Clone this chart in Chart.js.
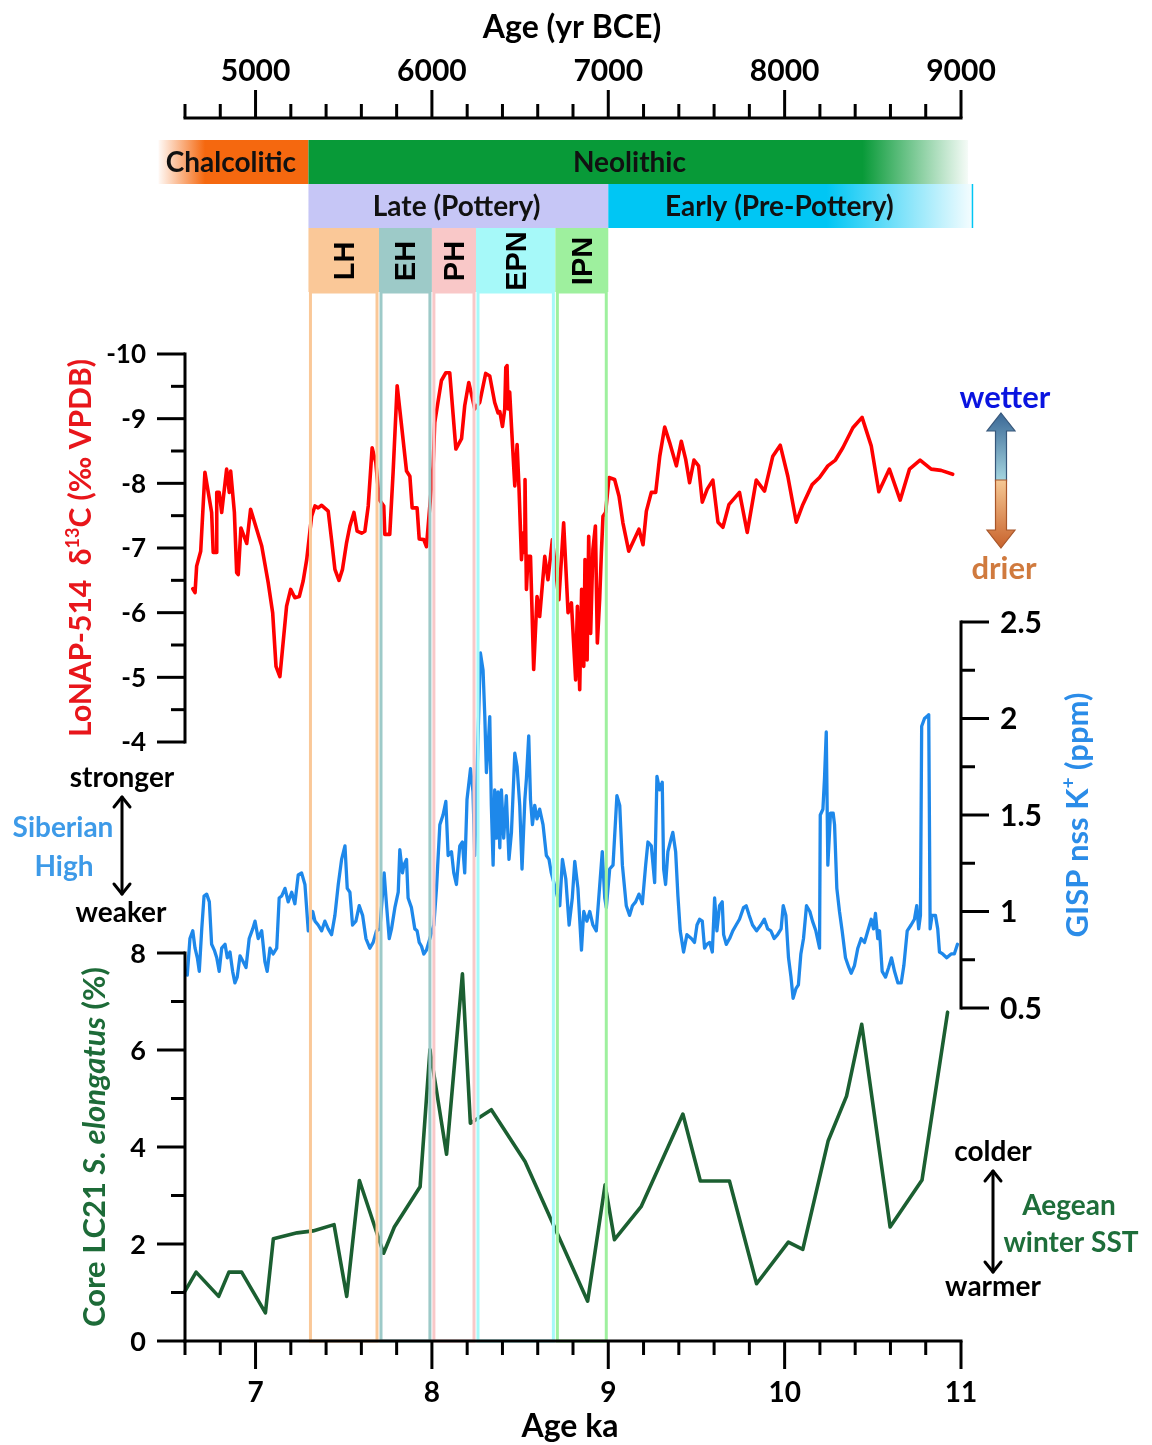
<!DOCTYPE html>
<html>
<head>
<meta charset="utf-8">
<title>Neolithic cultural phases and Holocene climate proxies</title>
<script src="https://cdn.jsdelivr.net/npm/chart.js@4.4.1/dist/chart.umd.min.js"></script>
<style>
  html, body { margin: 0; padding: 0; background: #fff; }
  canvas { display: block; }
</style>
</head>
<body>
<canvas id="chart" width="1152" height="1445"></canvas>
<script>
// ---------------- series (age in ka) ----------------
const RED_AGE = [6.644, 6.657, 6.666, 6.689, 6.713, 6.751, 6.76, 6.776, 6.78, 6.794, 6.808, 6.836, 6.851, 6.859, 6.88, 6.893, 6.902, 6.917, 6.95, 6.972,
  7.035, 7.072, 7.097, 7.116, 7.138, 7.176, 7.199, 7.223, 7.248, 7.27, 7.29, 7.318, 7.337, 7.355, 7.375, 7.412, 7.431, 7.45, 7.473, 7.493,
  7.516, 7.535, 7.558, 7.576, 7.601, 7.62, 7.639, 7.661, 7.682, 7.701, 7.727, 7.733, 7.761, 7.78, 7.803, 7.828, 7.856, 7.875, 7.888, 7.916,
  7.928, 7.954, 7.969, 8.007, 8.016, 8.054, 8.079, 8.101, 8.136, 8.168, 8.186, 8.209, 8.243, 8.271, 8.305, 8.328, 8.356, 8.375, 8.385, 8.4,
  8.413, 8.419, 8.426, 8.432, 8.441, 8.451, 8.47, 8.483, 8.494, 8.508, 8.517, 8.527, 8.528, 8.536, 8.545, 8.559, 8.577, 8.596, 8.611, 8.64,
  8.658, 8.683, 8.72, 8.747, 8.772, 8.791, 8.815, 8.825, 8.838, 8.849, 8.861, 8.868, 8.88, 8.889, 8.9, 8.913, 8.927, 8.938, 8.951, 8.961,
  8.97, 8.985, 9.004, 9.036, 9.061, 9.083, 9.116, 9.174, 9.197, 9.216, 9.244, 9.269, 9.292, 9.32, 9.348, 9.386, 9.414, 9.439, 9.461, 9.486,
  9.512, 9.533, 9.561, 9.593, 9.622, 9.65, 9.684, 9.744, 9.788, 9.839, 9.886, 9.933, 9.975, 10.018, 10.066, 10.103, 10.156, 10.198, 10.245, 10.288,
  10.33, 10.387, 10.439, 10.491, 10.534, 10.594, 10.655, 10.708, 10.768, 10.831, 10.887, 10.953];
const RED_D13C = [-6.37, -6.31, -6.72, -6.95, -8.17, -7.55, -6.93, -6.93, -7.86, -7.86, -7.55, -8.22, -7.86, -8.19, -7.55, -6.62, -6.59, -7.31, -7.07, -7.6,
  -7.03, -6.46, -6.0, -5.17, -5.01, -6.1, -6.36, -6.23, -6.25, -6.49, -6.82, -7.49, -7.65, -7.62, -7.66, -7.57, -7.13, -6.67, -6.5, -6.67,
  -7.08, -7.34, -7.55, -7.26, -7.23, -7.26, -7.65, -8.55, -8.32, -7.75, -7.65, -7.21, -7.21, -8.17, -9.51, -8.89, -8.19, -8.11, -7.62, -7.62,
  -7.14, -7.13, -7.02, -8.27, -8.94, -9.59, -9.71, -9.71, -8.53, -8.69, -9.2, -9.56, -9.15, -9.25, -9.7, -9.66, -9.25, -9.09, -9.11, -8.88,
  -9.15, -9.79, -9.82, -9.15, -9.41, -8.89, -7.96, -8.6, -7.91, -6.82, -7.23, -6.93, -8.06, -6.36, -6.87, -6.87, -5.12, -6.25, -5.94, -6.87,
  -6.51, -7.13, -6.2, -7.39, -6.0, -6.15, -4.96, -6.1, -4.81, -6.36, -5.17, -6.82, -5.27, -7.18, -5.68, -6.98, -7.34, -5.53, -6.2, -6.93,
  -7.49, -7.55, -8.09, -8.06, -7.8, -7.39, -6.95, -7.29, -7.05, -7.57, -7.86, -7.86, -8.42, -8.87, -8.63, -8.27, -8.65, -8.37, -8.01, -8.36,
  -8.27, -7.71, -7.91, -8.05, -7.4, -7.32, -7.67, -7.86, -7.24, -8.05, -7.88, -8.42, -8.59, -8.11, -7.4, -7.67, -7.98, -8.09, -8.27, -8.36,
  -8.55, -8.86, -9.02, -8.58, -7.87, -8.22, -7.74, -8.22, -8.36, -8.22, -8.2, -8.14];

const BLUE_AGE = [6.613, 6.628, 6.644, 6.657, 6.67, 6.681, 6.695, 6.708, 6.723, 6.738, 6.751, 6.766, 6.78, 6.794, 6.808, 6.827, 6.84, 6.855, 6.87, 6.883,
  6.896, 6.912, 6.93, 6.946, 6.964, 6.984, 6.997, 7.015, 7.035, 7.053, 7.066, 7.082, 7.1, 7.12, 7.134, 7.148, 7.167, 7.185, 7.205, 7.223,
  7.242, 7.261, 7.28, 7.299, 7.324, 7.337, 7.355, 7.375, 7.393, 7.412, 7.431, 7.45, 7.469, 7.488, 7.507, 7.52, 7.535, 7.55, 7.569, 7.588,
  7.607, 7.626, 7.648, 7.667, 7.686, 7.705, 7.729, 7.743, 7.758, 7.771, 7.79, 7.809, 7.818, 7.833, 7.841, 7.856, 7.865, 7.884, 7.903, 7.916,
  7.928, 7.941, 7.954, 7.969, 8.011, 8.026, 8.045, 8.063, 8.079, 8.092, 8.111, 8.124, 8.139, 8.158, 8.173, 8.186, 8.199, 8.219, 8.233, 8.243,
  8.275, 8.29, 8.3, 8.309, 8.318, 8.328, 8.337, 8.347, 8.356, 8.366, 8.375, 8.385, 8.394, 8.407, 8.422, 8.437, 8.451, 8.47, 8.483, 8.498,
  8.511, 8.527, 8.536, 8.549, 8.559, 8.57, 8.583, 8.596, 8.611, 8.63, 8.649, 8.664, 8.677, 8.725, 8.74, 8.759, 8.778, 8.796, 8.81, 8.828,
  8.848, 8.861, 8.879, 8.895, 8.913, 8.932, 8.966, 8.98, 8.989, 9.008, 9.027, 9.049, 9.065, 9.08, 9.102, 9.121, 9.137, 9.155, 9.174, 9.193,
  9.212, 9.225, 9.244, 9.263, 9.276, 9.291, 9.306, 9.314, 9.325, 9.338, 9.357, 9.366, 9.382, 9.395, 9.408, 9.427, 9.446, 9.471, 9.489, 9.503,
  9.518, 9.533, 9.546, 9.559, 9.575, 9.59, 9.603, 9.616, 9.631, 9.646, 9.654, 9.669, 9.688, 9.706, 9.725, 9.744, 9.767, 9.782, 9.799, 9.818,
  9.841, 9.865, 9.885, 9.904, 9.922, 9.941, 9.96, 9.98, 9.992, 10.007, 10.022, 10.036, 10.048, 10.064, 10.078, 10.092, 10.107, 10.124, 10.143, 10.158,
  10.177, 10.198, 10.202, 10.217, 10.226, 10.236, 10.245, 10.26, 10.275, 10.283, 10.296, 10.311, 10.326, 10.345, 10.364, 10.377, 10.396, 10.415, 10.434, 10.453,
  10.472, 10.491, 10.504, 10.515, 10.528, 10.538, 10.553, 10.572, 10.59, 10.606, 10.623, 10.642, 10.661, 10.676, 10.695, 10.717, 10.736, 10.749, 10.76, 10.77,
  10.777, 10.793, 10.806, 10.817, 10.825, 10.836, 10.855, 10.868, 10.878, 10.896, 10.919, 10.944, 10.962, 10.98];
const BLUE_K = [0.67, 0.86, 0.9, 0.81, 0.76, 0.69, 0.91, 1.08, 1.09, 1.05, 0.83, 0.8, 0.76, 0.69, 0.81, 0.83, 0.76, 0.79, 0.69, 0.63,
  0.66, 0.77, 0.74, 0.71, 0.86, 0.91, 0.95, 0.86, 0.9, 0.74, 0.69, 0.81, 0.78, 0.81, 1.07, 1.08, 1.12, 1.05, 1.1, 1.04,
  1.19, 1.2, 1.14, 0.9, 1.0, 0.95, 0.93, 0.9, 0.95, 0.91, 0.88, 0.98, 1.14, 1.27, 1.34, 1.12, 1.1, 0.93, 0.95, 1.03,
  0.98, 0.86, 0.81, 0.84, 0.9, 0.91, 1.2, 1.03, 0.86, 0.91, 1.02, 1.1, 1.32, 1.2, 1.24, 1.27, 1.07, 1.02, 0.91, 0.9,
  0.84, 0.82, 0.78, 0.8, 0.93, 1.12, 1.45, 1.5, 1.57, 1.29, 1.31, 1.2, 1.14, 1.34, 1.36, 1.2, 1.58, 1.74, 1.62, 1.29,
  2.34, 2.25, 2.01, 1.72, 1.84, 2.01, 1.55, 1.24, 1.63, 1.38, 1.62, 1.33, 1.63, 1.38, 1.6, 1.27, 1.41, 1.82, 1.75, 1.55,
  1.22, 1.58, 1.69, 1.91, 1.58, 1.45, 1.55, 1.48, 1.53, 1.45, 1.29, 1.27, 1.2, 1.03, 1.27, 1.17, 0.93, 1.07, 1.26, 1.12,
  0.8, 1.0, 0.95, 1.0, 0.93, 0.9, 1.31, 1.07, 1.02, 1.22, 1.24, 1.6, 1.55, 1.24, 1.03, 0.98, 1.03, 1.05, 1.09, 1.04,
  1.24, 1.36, 1.34, 1.15, 1.7, 1.63, 1.67, 1.22, 1.14, 1.31, 1.38, 1.41, 1.31, 1.08, 0.9, 0.79, 0.88, 0.86, 0.84, 0.93,
  0.96, 0.95, 0.81, 0.83, 0.84, 0.79, 1.07, 0.9, 1.03, 1.05, 0.88, 0.83, 0.86, 0.9, 0.93, 0.96, 1.02, 1.03, 0.98, 0.93,
  0.9, 0.93, 0.96, 0.91, 0.9, 0.86, 0.88, 0.91, 1.03, 0.98, 0.76, 0.66, 0.55, 0.6, 0.62, 0.78, 0.86, 1.03, 1.0, 0.95,
  0.9, 0.81, 1.5, 1.53, 1.69, 1.93, 1.24, 1.51, 1.51, 1.45, 1.12, 1.0, 0.9, 0.76, 0.71, 0.68, 0.72, 0.81, 0.86, 0.84,
  0.9, 0.96, 0.91, 0.99, 0.86, 0.9, 0.69, 0.66, 0.71, 0.76, 0.69, 0.63, 0.63, 0.72, 0.9, 0.93, 0.96, 1.03, 0.91, 0.98,
  1.96, 2.0, 2.01, 2.02, 0.91, 0.98, 0.98, 0.91, 0.79, 0.78, 0.76, 0.78, 0.78, 0.83];

const GREEN_AGE = [6.6, 6.663, 6.791, 6.849, 6.921, 7.056, 7.101, 7.236, 7.326, 7.445, 7.517, 7.589, 7.726, 7.787, 7.933, 7.989, 8.083, 8.173, 8.218, 8.337,
  8.528, 8.883, 8.982, 9.035, 9.186, 9.423, 9.522, 9.687, 9.841, 10.021, 10.103, 10.247, 10.351, 10.437, 10.598, 10.779, 10.924];
const GREEN_PCT = [1.03, 1.42, 0.92, 1.42, 1.42, 0.58, 2.11, 2.23, 2.27, 2.4, 0.92, 3.31, 1.81, 2.35, 3.18, 6.01, 3.85, 7.57, 4.49, 4.77,
  3.7, 0.82, 3.22, 2.09, 2.77, 4.68, 3.3, 3.3, 1.18, 2.04, 1.89, 4.13, 5.05, 6.53, 2.35, 3.32, 6.78];

// ---------------- axis ticks ----------------
const AGE_TICKS = [7, 8, 9, 10, 11];
const BCE_TICKS = [5000, 6000, 7000, 8000, 9000];
const D13C_TICKS = [-10, -9, -8, -7, -6, -5, -4];
const K_TICKS = [0.5, 1, 1.5, 2, 2.5];
const PCT_TICKS = [0, 2, 4, 6, 8];

// ---------------- cultural periods (yr BCE) ----------------
const ERA_NAMES = ['Chalcolitic', 'Neolithic'];
const ERA_FROM = [4450, 5300];
const ERA_TO = [5300, 9040];
const ERA_LABEL_AT = [4860, 7120];
const STAGE_NAMES = ['Late (Pottery)', 'Early (Pre-Pottery)'];
const STAGE_FROM = [5300, 7000];
const STAGE_TO = [7000, 9065];
const STAGE_LABEL_AT = [6140, 7970];
const PHASE_NAMES = ['LH', 'EH', 'PH', 'EPN', 'IPN'];
const PHASE_FROM = [5300, 5700, 6000, 6250, 6700];
const PHASE_TO = [5700, 6000, 6250, 6700, 7000];

// ---------------- layout & style ----------------
const W = 1152, H = 1445;
const AREA = { left: 185, right: 961, top: 118, bottom: 1341 };
const PANELS = {
  yRed:   { top: 354, bottom: 742, lo: -10, hi: -4, reverse: true },
  yBlue:  { top: 622, bottom: 1008, lo: 0.5, hi: 2.5 },
  yGreen: { top: 953, bottom: 1341, lo: 0, hi: 8 }
};
const BAND_Y = { eraTop: 140, eraBottom: 184, stageBottom: 228, phaseBottom: 292 };
const ERA_RGB = ['245,104,15', '8,154,56'];
const STAGE_RGB = ['198,198,246', '0,198,244'];
const PHASE_RGB = ['250,200,152', '157,202,200', '249,200,200', '166,249,249', '158,240,158'];
const COL = {
  red: '#ff0000', blue: '#1e88ea', green: '#1b5f31',
  redTitle: '#e8161b', blueTitle: '#2b8ce8', greenTitle: '#1d6b38'
};
const FONT = 'Lato, "Open Sans", "DejaVu Sans", sans-serif';
const font = (size, style = 'normal') => `${style} bold ${size}px ${FONT}`;
const MAJOR = 28, MINOR = 14, AXIS_W = 3;

// Extend each panel's value range so it lands on its own band of the plot area
function panelRange(p) {
  const ppu = (p.bottom - p.top) / (p.hi - p.lo);
  if (p.reverse) {
    return { min: p.lo - (p.top - AREA.top) / ppu, max: p.hi + (AREA.bottom - p.bottom) / ppu };
  }
  return { min: p.lo - (AREA.bottom - p.bottom) / ppu, max: p.hi + (p.top - AREA.top) / ppu };
}
const toPoints = (xs, ys) => xs.map((x, i) => ({ x, y: ys[i] }));

// ---------------- drawing helpers ----------------
function seg(ctx, x0, y0, x1, y1) {
  ctx.beginPath(); ctx.moveTo(x0, y0); ctx.lineTo(x1, y1); ctx.stroke();
}
const near = (a, b) => Math.abs(a - b) < 1e-6;

// vertical axis drawn along one panel of a y scale
function drawYAxis(ctx, scale, xLine, side, from, to, step, ticks, size) {
  ctx.strokeStyle = '#000'; ctx.lineWidth = AXIS_W; ctx.lineCap = 'square';
  seg(ctx, xLine, scale.getPixelForValue(from), xLine, scale.getPixelForValue(to));
  ctx.lineCap = 'butt';
  const dir = side === 'left' ? -1 : 1;
  const n = Math.round((to - from) / step);
  for (let k = 0; k <= n; k++) {
    const v = from + k * step;
    const y = scale.getPixelForValue(v);
    const len = ticks.some(t => near(t, v)) ? MAJOR : MINOR;
    seg(ctx, xLine, y, xLine + dir * len, y);
  }
  ctx.fillStyle = '#000'; ctx.font = font(size);
  ctx.textAlign = side === 'left' ? 'right' : 'left'; ctx.textBaseline = 'middle';
  ticks.forEach(t => ctx.fillText(String(t), xLine + dir * (MAJOR + 11), scale.getPixelForValue(t) + 1));
}

// horizontal axis along the bottom or the top edge
function drawXAxis(ctx, scale, yLine, side, from, to, step, ticks, size, labelY) {
  ctx.strokeStyle = '#000'; ctx.lineWidth = AXIS_W; ctx.lineCap = 'square';
  seg(ctx, scale.getPixelForValue(from), yLine, scale.getPixelForValue(to), yLine);
  ctx.lineCap = 'butt';
  const dir = side === 'bottom' ? 1 : -1;
  const n = Math.round((to - from) / step);
  for (let k = 0; k <= n; k++) {
    const v = from + k * step;
    const x = scale.getPixelForValue(v);
    const len = ticks.some(t => near(t, v)) ? MAJOR : MINOR;
    seg(ctx, x, yLine, x, yLine + dir * len);
  }
  ctx.fillStyle = '#000'; ctx.font = font(size);
  ctx.textAlign = 'center'; ctx.textBaseline = 'middle';
  ticks.forEach(t => ctx.fillText(String(t), scale.getPixelForValue(t), labelY));
}

// mixed-style text run, centred on (cx, cy), optionally reading bottom-to-top
function richText(ctx, parts, cx, cy, color, rotate) {
  ctx.save();
  ctx.translate(cx, cy);
  if (rotate) ctx.rotate(-Math.PI / 2);
  let total = 0;
  parts.forEach(p => { ctx.font = font(p.size, p.style); p.w = ctx.measureText(p.text).width; total += p.w; });
  let x = -total / 2;
  ctx.fillStyle = color; ctx.textAlign = 'left'; ctx.textBaseline = 'alphabetic';
  const base = parts[0].size * 0.36;
  parts.forEach(p => { ctx.font = font(p.size, p.style); ctx.fillText(p.text, x, base + (p.dy || 0)); x += p.w; });
  ctx.restore();
}

function label(ctx, text, x, y, size, color, align = 'center') {
  ctx.font = font(size); ctx.fillStyle = color; ctx.textAlign = align; ctx.textBaseline = 'middle';
  ctx.fillText(text, x, y);
}

function doubleArrow(ctx, x, y0, y1) {
  ctx.save();
  ctx.strokeStyle = '#000'; ctx.lineWidth = 3; ctx.lineCap = 'round'; ctx.lineJoin = 'round';
  seg(ctx, x, y0 + 1, x, y1 - 1);
  ctx.beginPath(); ctx.moveTo(x - 8, y0 + 11); ctx.lineTo(x, y0 + 1); ctx.lineTo(x + 8, y0 + 11); ctx.stroke();
  ctx.beginPath(); ctx.moveTo(x - 8, y1 - 11); ctx.lineTo(x, y1 - 1); ctx.lineTo(x + 8, y1 - 11); ctx.stroke();
  ctx.restore();
}

// block arrow with a vertical colour ramp (tipY above or below baseY)
function blockArrow(ctx, cx, tipY, headY, endY, c0, c1, edge) {
  const g = ctx.createLinearGradient(0, tipY, 0, endY);
  g.addColorStop(0, c0); g.addColorStop(1, c1);
  ctx.beginPath();
  ctx.moveTo(cx, tipY);
  ctx.lineTo(cx + 14, headY); ctx.lineTo(cx + 5.5, headY); ctx.lineTo(cx + 5.5, endY);
  ctx.lineTo(cx - 5.5, endY); ctx.lineTo(cx - 5.5, headY); ctx.lineTo(cx - 14, headY);
  ctx.closePath();
  ctx.fillStyle = g; ctx.fill();
  ctx.strokeStyle = edge; ctx.lineWidth = 1.2; ctx.stroke();
}

function fadedBar(ctx, x0, x1, y0, y1, rgb, fadeSide, fadeAt) {
  const g = ctx.createLinearGradient(x0, 0, x1, 0);
  const solid = `rgba(${rgb},1)`, pale = `rgba(${rgb},0.04)`;
  if (fadeSide === 'left') { g.addColorStop(0, pale); g.addColorStop(fadeAt, solid); g.addColorStop(1, solid); }
  else if (fadeSide === 'right') { g.addColorStop(0, solid); g.addColorStop(fadeAt, solid); g.addColorStop(1, pale); }
  else { g.addColorStop(0, solid); g.addColorStop(1, solid); }
  ctx.fillStyle = g;
  ctx.fillRect(x0, y0, x1 - x0, y1 - y0);
}

// ---------------- plugins ----------------
const whiteBackground = {
  id: 'whiteBackground',
  beforeDraw(chart) {
    const { ctx } = chart;
    ctx.save(); ctx.fillStyle = '#fff'; ctx.fillRect(0, 0, chart.width, chart.height); ctx.restore();
  }
};

// outlined columns marking each Late Neolithic phase through the record panels
const phaseColumns = {
  id: 'phaseColumns',
  afterDatasetsDraw(chart) {
    const { ctx } = chart;
    const sx = chart.scales.xTop;
    ctx.save();
    ctx.lineWidth = 3;
    PHASE_NAMES.forEach((_, i) => {
      const x0 = sx.getPixelForValue(PHASE_FROM[i]) + 2;
      const x1 = sx.getPixelForValue(PHASE_TO[i]) - 2;
      ctx.strokeStyle = `rgb(${PHASE_RGB[i]})`;
      ctx.strokeRect(x0, BAND_Y.phaseBottom, x1 - x0, AREA.bottom - BAND_Y.phaseBottom);
    });
    ctx.restore();
  }
};

// cultural period bars under the top axis
const periodBars = {
  id: 'periodBars',
  afterDraw(chart) {
    const { ctx } = chart;
    const sx = chart.scales.xTop;
    ctx.save();
    ERA_NAMES.forEach((name, i) => {
      const x0 = sx.getPixelForValue(ERA_FROM[i]), x1 = sx.getPixelForValue(ERA_TO[i]);
      if (i === 0) fadedBar(ctx, x0, x1, BAND_Y.eraTop, BAND_Y.eraBottom, ERA_RGB[i], 'left', 0.31);
      else fadedBar(ctx, x0, x1, BAND_Y.eraTop, BAND_Y.eraBottom, ERA_RGB[i], 'right', 0.84);
      label(ctx, name, sx.getPixelForValue(ERA_LABEL_AT[i]), (BAND_Y.eraTop + BAND_Y.eraBottom) / 2 + 1, 28, '#111');
    });
    STAGE_NAMES.forEach((name, i) => {
      const x0 = sx.getPixelForValue(STAGE_FROM[i]), x1 = sx.getPixelForValue(STAGE_TO[i]);
      if (i === 0) fadedBar(ctx, x0, x1, BAND_Y.eraBottom, BAND_Y.stageBottom, STAGE_RGB[i], 'none', 0);
      else {
        fadedBar(ctx, x0, x1, BAND_Y.eraBottom, BAND_Y.stageBottom, STAGE_RGB[i], 'right', 0.6);
        ctx.strokeStyle = `rgb(${STAGE_RGB[i]})`; ctx.lineWidth = 1.5;
        seg(ctx, x1, BAND_Y.eraBottom, x1, BAND_Y.stageBottom);
      }
      label(ctx, name, sx.getPixelForValue(STAGE_LABEL_AT[i]), (BAND_Y.eraBottom + BAND_Y.stageBottom) / 2 + 1, 28, '#111');
    });
    PHASE_NAMES.forEach((name, i) => {
      const x0 = sx.getPixelForValue(PHASE_FROM[i]), x1 = sx.getPixelForValue(PHASE_TO[i]);
      ctx.fillStyle = `rgb(${PHASE_RGB[i]})`;
      ctx.fillRect(x0, BAND_Y.stageBottom, x1 - x0, BAND_Y.phaseBottom - BAND_Y.stageBottom);
      ctx.save();
      ctx.translate((x0 + x1) / 2 + 1, (BAND_Y.stageBottom + BAND_Y.phaseBottom) / 2 + 1);
      ctx.rotate(-Math.PI / 2);
      ctx.font = 'bold 29px "Liberation Sans", Arial, sans-serif';
      ctx.fillStyle = '#000'; ctx.textAlign = 'center'; ctx.textBaseline = 'middle';
      ctx.fillText(name, 0, 1);
      ctx.restore();
    });
    ctx.restore();
  }
};

// axes, titles and interpretive annotations
const axesAndNotes = {
  id: 'axesAndNotes',
  afterDraw(chart) {
    const { ctx, scales } = chart;
    ctx.save();
    const xl = scales.x.getPixelForValue(6.6), xr = scales.x.getPixelForValue(11);

    drawXAxis(ctx, scales.x, AREA.bottom, 'bottom', 6.6, 11, 0.2, AGE_TICKS, 28, 1393);
    drawXAxis(ctx, scales.xTop, AREA.top, 'top', 4600, 9000, 200, BCE_TICKS, 30, 71);
    drawYAxis(ctx, scales.yRed, xl, 'left', -10, -4, 0.5, D13C_TICKS, 26);
    drawYAxis(ctx, scales.yGreen, xl, 'left', 0, 8, 1, PCT_TICKS, 27);
    drawYAxis(ctx, scales.yBlue, xr, 'right', 0.5, 2.5, 0.25, K_TICKS, 30);

    label(ctx, 'Age (yr BCE)', 572, 28, 32, '#000');
    label(ctx, 'Age ka', 570, 1427, 32, '#000');

    richText(ctx, [
      { text: 'LoNAP-514  \u03b4', size: 30 },
      { text: '13', size: 18, dy: -12 },
      { text: 'C (\u2030 VPDB)', size: 30 }
    ], 80, 548, COL.redTitle, true);
    richText(ctx, [
      { text: 'Core LC21 ', size: 31 },
      { text: 'S. elongatus', size: 31, style: 'italic' },
      { text: ' (%)', size: 31 }
    ], 94, 1147, COL.greenTitle, true);
    richText(ctx, [
      { text: 'GISP nss K', size: 31 },
      { text: '+', size: 19, dy: -13 },
      { text: ' (ppm)', size: 31 }
    ], 1077, 815, COL.blueTitle, true);

    // moisture indicator
    label(ctx, 'wetter', 1005, 398, 31, '#0a14e0');
    blockArrow(ctx, 1001, 413, 431, 481, '#3a6896', '#a6d6e0', '#37577a');
    blockArrow(ctx, 1001, 548, 530, 480, '#c8622c', '#f6c894', '#a8562a');
    label(ctx, 'drier', 1004, 569, 31, '#d07a3e');

    // Siberian High indicator
    label(ctx, 'stronger', 122, 778, 28, '#000');
    doubleArrow(ctx, 122, 796, 895);
    label(ctx, 'Siberian', 63, 828, 28, '#3d9ae8');
    label(ctx, 'High', 64, 867, 28, '#3d9ae8');
    label(ctx, 'weaker', 121, 913, 28, '#000');

    // Aegean SST indicator
    label(ctx, 'colder', 993, 1152, 28, '#000');
    doubleArrow(ctx, 993, 1170, 1273);
    label(ctx, 'Aegean', 1069, 1206, 28, '#1e6e3a');
    label(ctx, 'winter SST', 1071, 1243, 28, '#1e6e3a');
    label(ctx, 'warmer', 993, 1287, 28, '#000');
    ctx.restore();
  }
};

// ---------------- chart ----------------
const red = panelRange(PANELS.yRed);
const blue = panelRange(PANELS.yBlue);
const green = panelRange(PANELS.yGreen);

const lineStyle = { pointRadius: 0, pointHoverRadius: 0, tension: 0, fill: false,
  borderJoinStyle: 'round', borderCapStyle: 'round', clip: false };

new Chart(document.getElementById('chart'), {
  type: 'line',
  data: {
    datasets: [
      { ...lineStyle, label: 'LoNAP-514 \u03b413C', data: toPoints(RED_AGE, RED_D13C),
        borderColor: COL.red, borderWidth: 3.6, yAxisID: 'yRed' },
      { ...lineStyle, label: 'GISP nss K+', data: toPoints(BLUE_AGE, BLUE_K),
        borderColor: COL.blue, borderWidth: 3.3, yAxisID: 'yBlue' },
      { ...lineStyle, label: 'LC21 S. elongatus', data: toPoints(GREEN_AGE, GREEN_PCT),
        borderColor: COL.green, borderWidth: 3.6, yAxisID: 'yGreen' }
    ]
  },
  options: {
    responsive: false,
    animation: false,
    devicePixelRatio: 1,
    events: [],
    layout: { padding: { left: AREA.left, right: W - AREA.right, top: AREA.top, bottom: H - AREA.bottom } },
    plugins: { legend: { display: false }, tooltip: { enabled: false }, title: { display: false } },
    scales: {
      x: { type: 'linear', min: 6.6, max: 11, display: false },
      xTop: { type: 'linear', position: 'top', min: 4600, max: 9000, display: false },
      yRed: { type: 'linear', reverse: true, min: red.min, max: red.max, display: false },
      yBlue: { type: 'linear', min: blue.min, max: blue.max, display: false },
      yGreen: { type: 'linear', min: green.min, max: green.max, display: false }
    }
  },
  plugins: [whiteBackground, phaseColumns, periodBars, axesAndNotes]
});
</script>
</body>
</html>
